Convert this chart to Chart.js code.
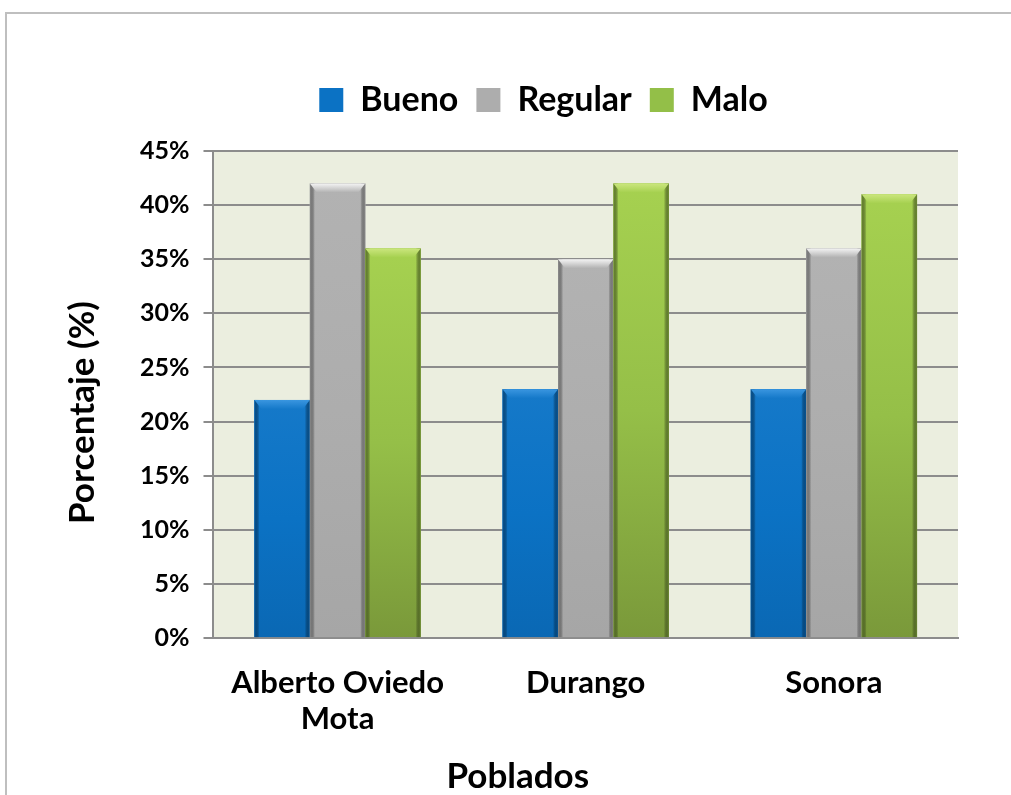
<!DOCTYPE html>
<html>
<head>
<meta charset="utf-8">
<script src="https://cdn.jsdelivr.net/npm/chart.js@4/dist/chart.umd.min.js"></script>
<style>
  html, body { margin: 0; padding: 0; background: #ffffff; width: 1011px; height: 795px; overflow: hidden; }
  #frame { position: absolute; left: 5px; top: 12px; width: 1100px; height: 900px; border: 2px solid #bfbfbf; box-sizing: border-box; }
  #wrap { position: absolute; left: 0; top: 0; width: 1011px; height: 795px; }
</style>
</head>
<body>
<div id="frame"></div>
<div id="wrap"><canvas id="c" width="1011" height="795"></canvas></div>
<script>
const categories = [["Alberto Oviedo", "Mota"], "Durango", "Sonora"];
const seriesNames = ["Bueno", "Regular", "Malo"];
const bueno = [22, 23, 23];
const regular = [42, 35, 36];
const malo = [36, 42, 41];
const yTicks = [0, 5, 10, 15, 20, 25, 30, 35, 40, 45];

const FONT = "Lato, 'Open Sans', 'DejaVu Sans', sans-serif";

const palette = {
  Bueno:   { top: '#1579c9', mid: '#0b72c4', bot: '#0a68b4', edge: '#07579a', bevel: '#3a96e0', legend: '#0b72c4' },
  Regular: { top: '#b2b2b2', mid: '#adadad', bot: '#a6a6a6', edge: '#8e8e8e', bevel: '#f4f4f4', legend: '#adadad' },
  Malo:    { top: '#a6d150', mid: '#95bf48', bot: '#7a993a', edge: '#6b8832', bevel: '#cbe67e', legend: '#93bf48' }
};

const LEGEND_SHIFT = 37;
const X_TITLE_SHIFT = -68;
const Y_TITLE_SHIFT = 18;

function shiftTitle(scale, dx, dy) {
  if (!scale || scale._titlePatched) return;
  const orig = scale.drawTitle.bind(scale);
  scale.drawTitle = function () {
    this.left += dx; this.right += dx; this.top += dy; this.bottom += dy;
    orig();
    this.left -= dx; this.right -= dx; this.top -= dy; this.bottom -= dy;
  };
  scale._titlePatched = true;
}

const bgPlugin = {
  id: 'plotBg',
  beforeInit(chart) {
    const lg = chart.legend;
    if (lg) {
      const origFit = lg.fit.bind(lg);
      lg.fit = function () { origFit(); this.height += 24; };
      const origDraw = lg.draw.bind(lg);
      lg.draw = function () {
        this.left += LEGEND_SHIFT; this.right += LEGEND_SHIFT;
        origDraw();
        this.left -= LEGEND_SHIFT; this.right -= LEGEND_SHIFT;
      };
    }
  },
  beforeDraw(chart) {
    shiftTitle(chart.scales.x, X_TITLE_SHIFT, 0);
    shiftTitle(chart.scales.y, 0, Y_TITLE_SHIFT);
    const a = chart.chartArea, ctx = chart.ctx;
    ctx.save();
    ctx.fillStyle = '#ebeedf';
    ctx.fillRect(a.left, a.top, a.right - a.left, a.bottom - a.top);
    ctx.restore();
  }
};

const bevelPlugin = {
  id: 'bevel',
  afterDatasetsDraw(chart) {
    const ctx = chart.ctx;
    chart.data.datasets.forEach((ds, di) => {
      const p = palette[ds.label];
      chart.getDatasetMeta(di).data.forEach(bar => {
        const x0 = bar.x - bar.width / 2, x1 = bar.x + bar.width / 2;
        const yT = bar.y, yB = bar.base;
        ctx.save();
        const g = ctx.createLinearGradient(0, yT, 0, yB);
        g.addColorStop(0, p.top);
        g.addColorStop(0.5, p.mid);
        g.addColorStop(1, p.bot);
        ctx.fillStyle = g;
        ctx.fillRect(x0, yT, x1 - x0, yB - yT);
        const sw = 5;
        const gl = ctx.createLinearGradient(x0, 0, x0 + sw, 0);
        gl.addColorStop(0, p.edge); gl.addColorStop(1, 'rgba(0,0,0,0)');
        ctx.fillStyle = gl;
        ctx.fillRect(x0, yT, sw, yB - yT);
        const gr = ctx.createLinearGradient(x1 - sw, 0, x1, 0);
        gr.addColorStop(0, 'rgba(0,0,0,0)'); gr.addColorStop(1, p.edge);
        ctx.fillStyle = gr;
        ctx.fillRect(x1 - sw, yT, sw, yB - yT);
        const bh = 9, bi = 7;
        const gb = ctx.createLinearGradient(0, yT, 0, yT + bh);
        gb.addColorStop(0, p.bevel); gb.addColorStop(1, p.top);
        ctx.fillStyle = gb;
        ctx.beginPath();
        ctx.moveTo(x0, yT); ctx.lineTo(x1, yT); ctx.lineTo(x1 - bi, yT + bh); ctx.lineTo(x0 + bi, yT + bh); ctx.closePath();
        ctx.fill();
        ctx.restore();
      });
    });
  }
};

new Chart(document.getElementById('c'), {
  type: 'bar',
  data: {
    labels: categories,
    datasets: [
      { label: seriesNames[0], data: bueno, backgroundColor: palette.Bueno.legend },
      { label: seriesNames[1], data: regular, backgroundColor: palette.Regular.legend },
      { label: seriesNames[2], data: malo, backgroundColor: palette.Malo.legend }
    ]
  },
  options: {
    responsive: false,
    animation: false,
    devicePixelRatio: 1,
    datasets: { bar: { barPercentage: 1.0, categoryPercentage: 0.67 } },
    layout: { padding: { left: 55, right: 53, top: 65, bottom: -3 } },
    plugins: {
      legend: {
        position: 'top',
        labels: {
          color: '#000000',
          font: { family: FONT, size: 34, weight: 'bold' },
          boxWidth: 24, boxHeight: 24, padding: 18
        }
      },
      tooltip: { enabled: false }
    },
    scales: {
      x: {
        afterFit(axis) { axis.height -= 26; },
        grid: { display: false, drawTicks: false },
        border: { display: true, color: '#8c8c8c', width: 2 },
        ticks: { color: '#000000', font: { family: FONT, size: 31, weight: 'bold', lineHeight: 1.16 }, padding: 27, maxRotation: 0 },
        title: { display: true, text: 'Poblados', color: '#000000', font: { family: FONT, size: 35, weight: 'bold' }, padding: { top: 18, bottom: 0 } }
      },
      y: {
        min: 0, max: 45,
        afterBuildTicks(axis) { axis.ticks = yTicks.map(v => ({ value: v })); },
        grid: { color: '#8c8c8c', lineWidth: 2, tickLength: 10, drawTicks: true },
        border: { display: true, color: '#8c8c8c', width: 2 },
        ticks: { color: '#000000', font: { family: FONT, size: 25, weight: 'bold' }, padding: 14, callback: v => v + '%' },
        title: { display: true, text: 'Porcentaje (%)', color: '#000000', font: { family: FONT, size: 35, weight: 'bold' }, padding: { top: 7, bottom: 22 } }
      }
    }
  },
  plugins: [bgPlugin, bevelPlugin]
});
</script>
</body>
</html>
